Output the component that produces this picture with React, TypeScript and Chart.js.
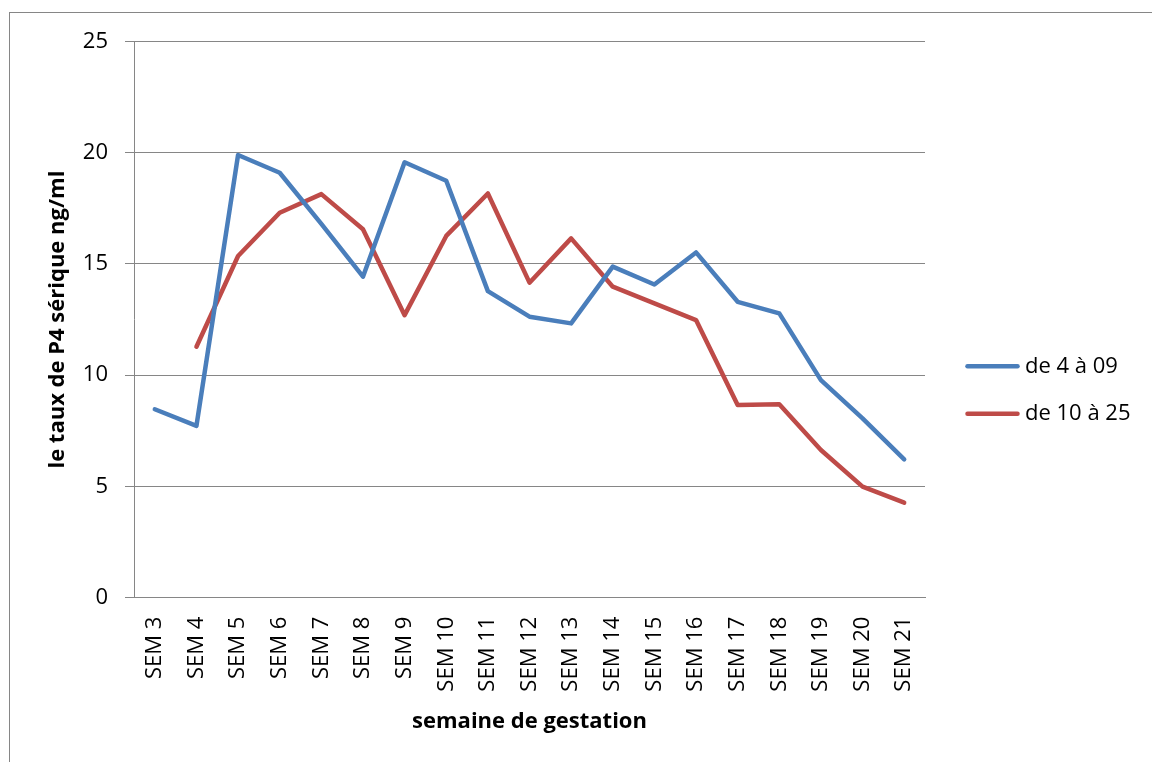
import React, { useEffect, useRef } from 'react';
import { Chart, registerables } from 'chart.js';

Chart.register(...registerables);

const categories = [
  'SEM 3', 'SEM 4', 'SEM 5', 'SEM 6', 'SEM 7', 'SEM 8', 'SEM 9', 'SEM 10', 'SEM 11', 'SEM 12',
  'SEM 13', 'SEM 14', 'SEM 15', 'SEM 16', 'SEM 17', 'SEM 18', 'SEM 19', 'SEM 20', 'SEM 21',
];

const seriesBlueLabel = 'de 4 à 09';
const seriesBlue = [8.47, 7.72, 19.9, 19.1, 16.8, 14.43, 19.57, 18.74, 13.78, 12.63, 12.33, 14.88, 14.08, 15.52, 13.3, 12.78, 9.78, 8.06, 6.22];

const seriesRedLabel = 'de 10 à 25';
const seriesRed = [null, 11.28, 15.36, 17.3, 18.14, 16.56, 12.7, 16.26, 18.17, 14.16, 16.15, 13.98, 13.23, 12.48, 8.66, 8.7, 6.64, 4.99, 4.27];

const yMin = 0;
const yMax = 25;
const yStep = 5;

const yTitle = 'le taux de P4 sérique ng/ml';
const xTitle = 'semaine de gestation';

const BLUE = '#4A7EBB';
const RED = '#BE4B48';
const GRID = '#868686';
const FONT = "'Open Sans', 'Noto Sans', sans-serif";

// Legend drawn on the canvas, to the right of the plot area (Excel-style)
const sideLegend = {
  id: 'sideLegend',
  afterDraw(chart: any) {
    const { ctx, chartArea } = chart;
    const datasets = chart.data.datasets;
    const spacing = 47.5;
    const centerY = 390;
    const lineStart = chartArea.right + 42.5;
    const lineEnd = lineStart + 50;
    const textX = lineEnd + 7.5;
    ctx.save();
    ctx.font = `22px ${FONT}`;
    ctx.textBaseline = 'middle';
    ctx.textAlign = 'left';
    datasets.forEach((ds: any, i: number) => {
      const y = centerY + (i - (datasets.length - 1) / 2) * spacing;
      ctx.beginPath();
      ctx.strokeStyle = ds.borderColor;
      ctx.lineWidth = 4.5;
      ctx.lineCap = 'round';
      ctx.moveTo(lineStart, y);
      ctx.lineTo(lineEnd, y);
      ctx.stroke();
      ctx.fillStyle = '#000';
      ctx.fillText(ds.label, textX, y);
    });
    ctx.restore();
  },
};

export default function App() {
  const ref = useRef<HTMLCanvasElement>(null);

  useEffect(() => {
    const chart = new Chart(ref.current as HTMLCanvasElement, {
      type: 'line',
      data: {
        labels: categories,
        datasets: [
          {
            label: seriesBlueLabel,
            data: seriesBlue,
            borderColor: BLUE,
            backgroundColor: BLUE,
            borderWidth: 4.5,
            pointRadius: 0,
            tension: 0,
            borderCapStyle: 'round',
            borderJoinStyle: 'round',
          },
          {
            label: seriesRedLabel,
            data: seriesRed,
            borderColor: RED,
            backgroundColor: RED,
            borderWidth: 4.5,
            pointRadius: 0,
            tension: 0,
            borderCapStyle: 'round',
            borderJoinStyle: 'round',
          },
        ],
      },
      options: {
        animation: false,
        responsive: false,
        maintainAspectRatio: false,
        layout: { padding: { top: 41.5, bottom: 23.5, left: 0, right: 227 } },
        plugins: {
          tooltip: { enabled: false },
          legend: { display: false },
        },
        scales: {
          x: {
            type: 'category',
            offset: true,
            grid: { display: false, drawTicks: false },
            border: { display: true, color: GRID, width: 1 },
            ticks: {
              autoSkip: false,
              minRotation: 90,
              maxRotation: 90,
              padding: 19,
              color: '#000',
              font: { family: FONT, size: 22 },
            },
            title: {
              display: true,
              text: xTitle,
              color: '#000',
              font: { family: FONT, size: 22, weight: 'bold' },
              padding: { top: 0, bottom: 3.3 },
            },
            afterFit: (s: any) => {
              s.height = 140.8;
            },
          },
          y: {
            type: 'linear',
            position: 'left',
            min: yMin,
            max: yMax,
            ticks: {
              stepSize: yStep,
              padding: 17,
              color: '#000',
              font: { family: FONT, size: 22 },
            },
            grid: {
              color: GRID,
              lineWidth: 1,
              drawTicks: true,
              tickLength: 9,
              tickColor: GRID,
            },
            border: { display: true, color: GRID, width: 1 },
            title: {
              display: true,
              text: yTitle,
              color: '#000',
              font: { family: FONT, size: 22, weight: 'bold' },
              padding: { top: 44.8, bottom: 0 },
            },
            afterFit: (s: any) => {
              s.width = 134;
            },
          },
        },
      } as any,
      plugins: [sideLegend],
    });
    return () => chart.destroy();
  }, []);

  return (
    <div
      style={{
        position: 'fixed',
        left: 0,
        top: 0,
        width: 1152,
        height: 762,
        overflow: 'hidden',
        background: '#fff',
      }}
    >
      <div
        style={{
          position: 'absolute',
          left: 9,
          top: 12,
          width: 1200,
          height: 800,
          border: `1px solid ${GRID}`,
        }}
      />
      <canvas
        ref={ref}
        width={1152}
        height={762}
        style={{ position: 'absolute', left: 0, top: 0 }}
      />
    </div>
  );
}
